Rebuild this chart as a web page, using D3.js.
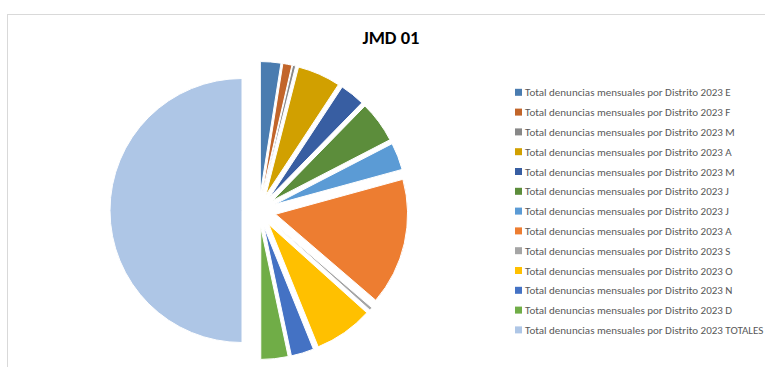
<!DOCTYPE html>
<html>
<head>
<meta charset="utf-8">
<script src="https://cdn.jsdelivr.net/npm/d3@7"></script>
<style>
  html, body { margin: 0; padding: 0; background: #fff; overflow: hidden; }
  svg { display: block; }
</style>
</head>
<body>
<svg id="chart" width="765" height="367"></svg>
<script>
// Monthly complaints per district (JMD 01), 2023
const prefix = "Total denuncias mensuales por Distrito 2023 ";
const months = ["E", "F", "M", "A", "M", "J", "J", "A", "S", "O", "N", "D", "TOTALES"];
const values = [27, 12, 4, 57, 33, 55, 36, 168, 4, 78, 30, 36, 540];
const colors = ["#4A7CB0", "#C2652A", "#888888", "#D1A000", "#385EA2", "#5C8D3B",
                "#5B9BD5", "#ED7D31", "#A5A5A5", "#FFC000", "#4472C4", "#70AD47", "#AEC6E6"];
const title = "JMD 01";

const svg = d3.select("#chart");
const font = "Calibri, Carlito, 'Liberation Sans', Arial, sans-serif";

// chart frame (only top and left edges fall inside the view)
svg.append("rect")
  .attr("x", 7.5).attr("y", 14.5)
  .attr("width", 800).attr("height", 400)
  .attr("fill", "#fff").attr("stroke", "#D9D9D9").attr("stroke-width", 1);

// title
svg.append("text")
  .attr("x", 391).attr("y", 44)
  .attr("text-anchor", "middle")
  .attr("font-family", font)
  .attr("font-weight", "bold")
  .attr("font-size", 18.5)
  .attr("fill", "#000")
  .text(title);

// exploded pie
const cx = 259, cy = 210.5, radius = 132, explode = 17;
const data = months.map((m, i) => ({ label: prefix + m, value: values[i], color: colors[i] }));
const pie = d3.pie().sort(null).value(d => d.value);
const arc = d3.arc().innerRadius(0).outerRadius(radius);

const g = svg.append("g").attr("transform", `translate(${cx},${cy})`);
g.selectAll("path")
  .data(pie(data))
  .join("path")
  .attr("transform", d => {
    const m = (d.startAngle + d.endAngle) / 2;
    return `translate(${explode * Math.sin(m)},${-explode * Math.cos(m)})`;
  })
  .attr("d", arc)
  .attr("fill", d => d.data.color)
  .attr("stroke", "#fff")
  .attr("stroke-width", 1);

// legend
const legendX = 515, legendY0 = 92.3, legendStep = 19.8;
const legend = svg.append("g");
const rows = legend.selectAll("g")
  .data(data)
  .join("g")
  .attr("transform", (d, i) => `translate(${legendX},${legendY0 + i * legendStep})`);
rows.append("rect")
  .attr("x", 0).attr("y", -3.5)
  .attr("width", 7).attr("height", 7)
  .attr("fill", d => d.color);
const labels = rows.append("text")
  .attr("x", 10).attr("y", 4)
  .attr("font-family", font)
  .attr("font-size", 11)
  .attr("fill", "#595959")
  .text(d => d.label);

// size legend text so the first entry spans about 206px
const w = labels.node().getComputedTextLength();
labels.attr("font-size", 11 * 206 / w);
</script>
</body>
</html>
